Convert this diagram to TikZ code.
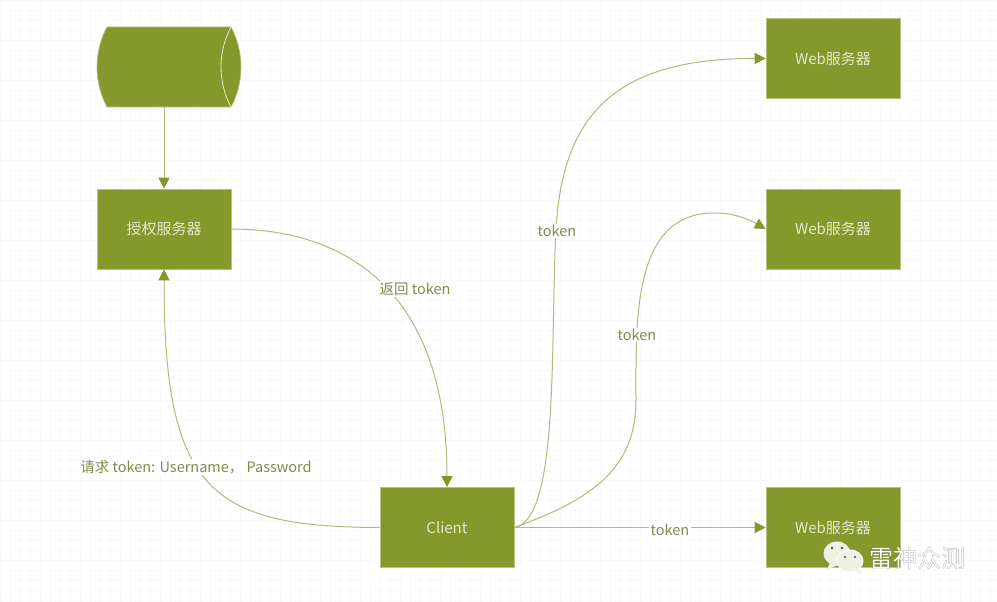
\documentclass[tikz,border=0pt]{standalone}
\usepackage{fontspec}
\setmainfont{Noto Sans CJK SC}
\usetikzlibrary{arrows.meta}
\definecolor{boxgreen}{HTML}{84982B}
\definecolor{linegreen}{HTML}{AEBB7C}
\definecolor{labelgreen}{HTML}{7F8C4C}
\definecolor{boxtext}{HTML}{E3E9C8}
\definecolor{gridc}{HTML}{F8F9FB}
\definecolor{wechat}{HTML}{EEF0E4}
\tikzset{
  x=1pt,y=-1pt,
  box/.style={fill=boxgreen,draw=boxgreen!60!white,line width=.6pt,minimum width=134pt,minimum height=80pt,inner sep=0pt,text=boxtext,font=\fontsize{15}{17}\selectfont},
  conn/.style={draw=linegreen,line width=1pt,-{Triangle[length=11pt,width=11pt,color=boxgreen,fill=boxgreen]}},
  lab/.style={fill=white,text=labelgreen,inner sep=1.5pt,font=\fontsize{14.5}{17}\selectfont},
}
\begin{document}
\begin{tikzpicture}
\useasboundingbox (0,0) rectangle (997,602);
\fill[white] (0,0) rectangle (997,602);
\foreach \gx in {0,10,...,990} \draw[gridc,line width=.5pt] (\gx,0) -- (\gx,602);
\foreach \gy in {0,10,...,600} \draw[gridc,line width=.5pt] (0,\gy) -- (997,\gy);

% cylinder
\filldraw[fill=boxgreen,draw=boxgreen!60!white,line width=.6pt] (107,27) -- (231,27) .. controls (237,38) and (241,52) .. (241,67) .. controls (241,82) and (237,96) .. (231,107) -- (107,107) .. controls (101,96) and (97,82) .. (97,67) .. controls (97,52) and (101,38) .. (107,27) -- cycle;
\draw[boxtext,line width=.8pt] (231,27) .. controls (225,38) and (221,52) .. (221,67) .. controls (221,82) and (225,96) .. (231,107);
\node[minimum width=134pt,minimum height=80pt,inner sep=0pt] (db) at (164,67) {};

\node[box] (auth) at (164,229) {授权服务器};
\node[box] (client) at (447,527.5) {Client};
\node[box] (web1) at (833,58.5) {Web服务器};
\node[box] (web2) at (833,229) {Web服务器};
\node[box] (web3) at (833,527.5) {Web服务器};

\draw[conn] (db.south) -- (auth.north);
\draw[conn] (auth.east) .. controls (345,229) and (447,290) .. (client.north);
\draw[conn] (client.west) .. controls (210,527) and (164,490) .. (auth.south);
\draw[conn] (client.east) .. controls (560,520) and (550,340) .. (556,230) .. controls (562,120) and (610,58) .. (web1.west);
\draw[conn] (client.east) .. controls (590,500) and (636,470) .. (636,400) .. controls (636,320) and (632,212) .. (715,213) .. controls (735,213) and (750,220) .. (web2.west);
\draw[conn] (client.east) -- (web3.west);

\node[lab] (l1) at (415,289) {返回 token};
\node[lab] (l2) at (196,467) {请求 token: Username， Password};
\node[lab] (l3) at (557,231) {token};
\node[lab] (l4) at (637,335) {token};
\node[lab] (l5) at (670,530) {token};

% watermark
\fill[wechat] (837,553.5) ellipse (13.5pt and 12pt);
\fill[wechat] (830,562) -- (827,570) -- (838,565) -- cycle;
\fill[white] (850,561) ellipse (13.5pt and 11.5pt);
\fill[wechat] (850,561) ellipse (12.5pt and 10.5pt);
\fill[wechat] (855,570) -- (860,574) -- (858,567) -- cycle;
\fill[black!70] (832,548) circle (1.3pt) (842,548) circle (1.3pt) (845,557) circle (1.2pt) (855,557) circle (1.2pt);
\node[text=black!75,inner sep=0pt,font=\fontsize{24}{27}\selectfont] (wmshadow) at (917.6,558.6) {雷神众测};
\node[text=white,inner sep=0pt,font=\fontsize{24}{27}\selectfont] (wm) at (917,558) {雷神众测};
\end{tikzpicture}
\end{document}
